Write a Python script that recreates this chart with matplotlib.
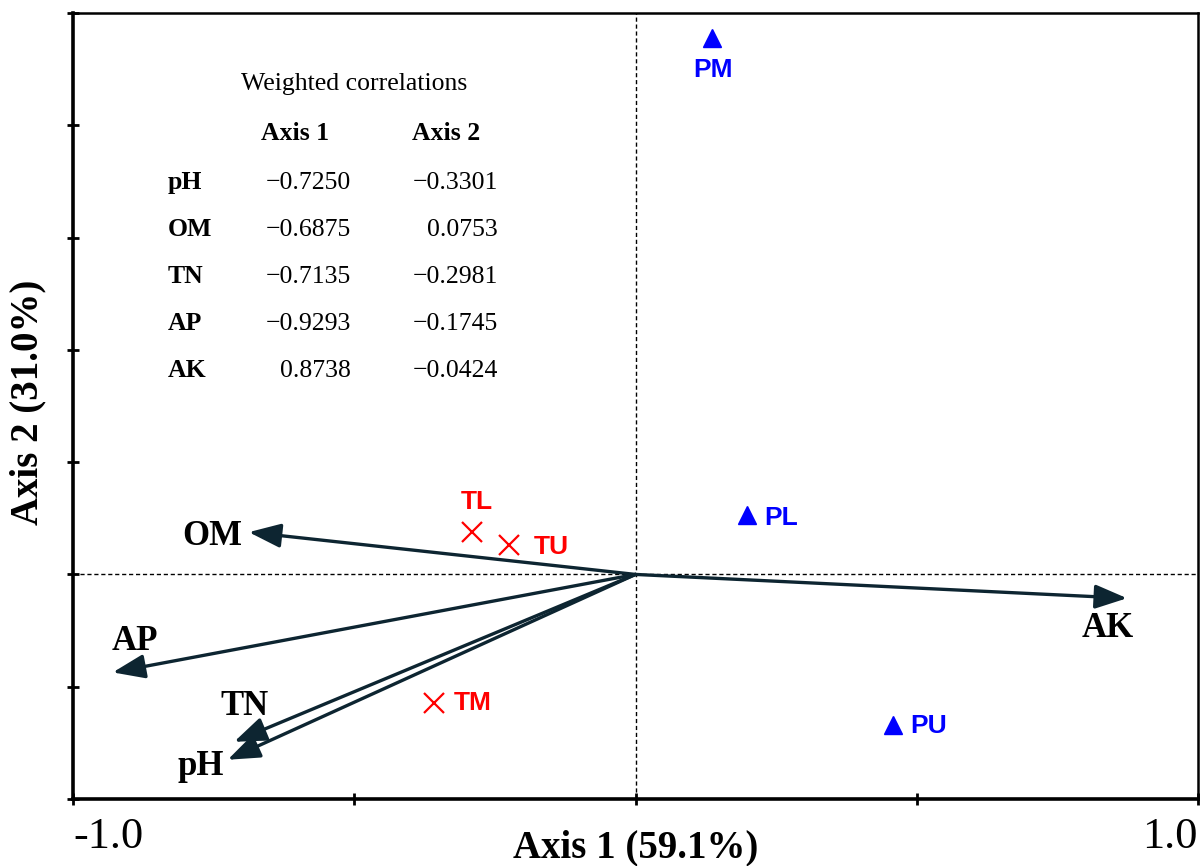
import matplotlib
matplotlib.use('Agg')
import matplotlib.pyplot as plt

# environmental variables (biplot arrows) = weighted correlations
variables = ['pH', 'OM', 'TN', 'AP', 'AK']
axis1_corr = [-0.7250, -0.6875, -0.7135, -0.9293, 0.8738]
axis2_corr = [-0.3301, 0.0753, -0.2981, -0.1745, -0.0424]

# sample scores
p_names = ['PM', 'PL', 'PU']
p_x = [0.136, 0.198, 0.458]
p_y = [0.955, 0.105, -0.269]

t_names = ['TL', 'TU', 'TM']
t_x = [-0.291, -0.225, -0.359]
t_y = [0.075, 0.053, -0.229]

SERIF = 'Liberation Serif'
SANS = 'Liberation Sans'
ARROW_COLOR = '#0d2531'

# label offsets (pixels) relative to arrow tips / markers
var_offsets = {'pH': (-27, -7), 'OM': (-37, -4), 'TN': (10, 35),
               'AP': (22, 31), 'AK': (-19, -30)}
p_offsets = {'PM': (1, -32, 'center'), 'PL': (17, -3, 'left'), 'PU': (17, -1, 'left')}
t_offsets = {'TL': (5, 30, 'center'), 'TU': (25, -2, 'left'), 'TM': (20, 0, 'left')}

fig = plt.figure(figsize=(12.02, 8.66), dpi=100)
ax = fig.add_axes([73 / 1202, 1 - 799 / 866, 1125 / 1202, 786 / 866])
ax.set_xlim(-1.0, 1.0)
ax.set_ylim(-0.4, 1.0)

# reference lines
ax.axhline(0, color='black', lw=1.0, ls=(0, (3, 2)), zorder=1)
ax.axvline(0, color='black', lw=1.0, ls=(0, (3, 2)), zorder=1)

# arrows
for name, x, y in zip(variables, axis1_corr, axis2_corr):
    ax.annotate('', xy=(x, y), xytext=(0, 0),
                arrowprops=dict(arrowstyle='-|>,head_length=0.85,head_width=0.32',
                                mutation_scale=23, lw=2.4, color=ARROW_COLOR,
                                shrinkA=0, shrinkB=0), zorder=3)
    dx, dy = var_offsets[name]
    ax.annotate(name, xy=(x, y), xytext=(dx, dy), textcoords='offset pixels',
                ha='center', va='center', fontsize=25, fontweight='bold',
                family=SERIF, color='black')

# sample points
ax.plot(p_x, p_y, '^', color='blue', markersize=13, zorder=4)
for name, x, y in zip(p_names, p_x, p_y):
    dx, dy, ha = p_offsets[name]
    ax.annotate(name, xy=(x, y), xytext=(dx, dy), textcoords='offset pixels',
                ha=ha, va='center', fontsize=19, fontweight='bold',
                family=SANS, color='blue')

ax.plot(t_x, t_y, 'x', color='red', markersize=15, markeredgewidth=1.6, zorder=4)
for name, x, y in zip(t_names, t_x, t_y):
    dx, dy, ha = t_offsets[name]
    ax.annotate(name, xy=(x, y), xytext=(dx, dy), textcoords='offset pixels',
                ha=ha, va='center', fontsize=19, fontweight='bold',
                family=SANS, color='red')

# correlation table
ax.text(-0.50, 0.874, 'Weighted correlations', ha='center', va='center',
        fontsize=18.5, family=SERIF)
ax.text(-0.605, 0.785, 'Axis 1', ha='center', va='center', fontsize=18.5,
        fontweight='bold', family=SERIF)
ax.text(-0.337, 0.785, 'Axis 2', ha='center', va='center', fontsize=18.5,
        fontweight='bold', family=SERIF)
row_y = 0.698
for name, c1, c2 in zip(variables, axis1_corr, axis2_corr):
    ax.text(-0.831, row_y, name, ha='left', va='center', fontsize=18.5,
            fontweight='bold', family=SERIF)
    ax.text(-0.506, row_y, f'{c1:.4f}'.replace('-', '\u2212'), ha='right',
            va='center', fontsize=18.5, family=SERIF)
    ax.text(-0.244, row_y, f'{c2:.4f}'.replace('-', '\u2212'), ha='right',
            va='center', fontsize=18.5, family=SERIF)
    row_y -= 0.0837

# spines and ticks
for side in ['left', 'bottom']:
    ax.spines[side].set_linewidth(2.6)
for side in ['top', 'right']:
    ax.spines[side].set_linewidth(1.8)
ax.set_xticks([-1.0, -0.5, 0.0, 0.5, 1.0])
ax.set_yticks([-0.4, -0.2, 0.0, 0.2, 0.4, 0.6, 0.8, 1.0])
ax.tick_params(direction='inout', length=9, width=2, labelbottom=False,
               labelleft=False)

# end labels of axis 1
ax.text(-1.0, -0.048, '-1.0', transform=ax.get_xaxis_transform(), ha='left',
        va='center', fontsize=32, family=SERIF)
ax.text(1.0, -0.048, '1.0', transform=ax.get_xaxis_transform(), ha='right',
        va='center', fontsize=32, family=SERIF)

ax.set_xlabel('Axis 1 (59.1%)', fontsize=28, fontweight='bold', family=SERIF,
              va='center')
ax.xaxis.set_label_coords(0.5, -0.0625)
ax.set_ylabel('Axis 2 (31.0%)', fontsize=28, fontweight='bold', family=SERIF,
              va='center')
ax.yaxis.set_label_coords(-0.040, 0.505)

fig.savefig('out.png', dpi=100)
